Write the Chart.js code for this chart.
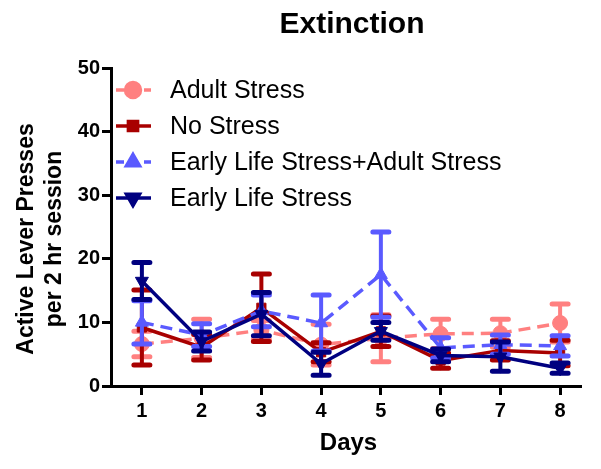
<!DOCTYPE html>
<html>
<head>
<meta charset="utf-8">
<script src="https://cdn.jsdelivr.net/npm/chart.js@4/dist/chart.umd.min.js"></script>
<style>
  html, body { margin: 0; padding: 0; background: #fff; }
  #wrap { width: 601px; height: 469px; }
</style>
</head>
<body>
<div id="wrap"><canvas id="chart" width="601" height="469"></canvas></div>
<script>
//Days on the x axis
const days = [1, 2, 3, 4, 5, 6, 7, 8];
//Group means and error (SEM)
const adultStress = [6.6, 7.5, 8.8, 6.5, 7.5, 8.2, 8.3, 9.9];
const adultStressErr = [2.0, 3.0, 1.5, 3.2, 3.7, 2.3, 2.2, 3.0];
const noStress = [9.2, 6.1, 12.3, 5.3, 8.6, 4.0, 5.6, 5.2];
const noStressErr = [5.9, 2.0, 5.3, 1.5, 2.4, 1.2, 1.5, 2.0];
const elsAdult = [10.0, 8.0, 11.8, 9.9, 17.5, 6.0, 6.5, 6.3];
const elsAdultErr = [3.4, 1.8, 2.5, 4.4, 6.7, 1.6, 1.5, 1.6];
const els = [16.5, 7.0, 11.3, 3.5, 8.6, 4.8, 4.6, 2.8];
const elsErr = [2.9, 1.5, 3.4, 1.8, 1.4, 1.0, 2.3, 0.8];
//Y axis ticks
const yTicks = [0, 10, 20, 30, 40, 50];

const FONT = "Arial, 'Liberation Sans', sans-serif";

//build one dataset
const makeSet = (label, values, errors, color, dashed, style, rot, order) => ({
  label: label,
  data: days.map((d, i) => ({ x: d, y: values[i] })),
  errors: errors,
  borderColor: color,
  backgroundColor: color,
  borderWidth: 3.5,
  borderDash: dashed ? [12, 7] : [],
  pointStyle: style,
  rotation: rot,
  pointRadius: style === "rect" ? 6.5 : 7.5,
  pointBorderWidth: 1,
  tension: 0,
  order: order,
});

const datasets = [
  makeSet("Adult Stress", adultStress, adultStressErr, "#FF8080", true, "circle", 0, 4),
  makeSet("No Stress", noStress, noStressErr, "#A80000", false, "rect", 0, 3),
  makeSet("Early Life Stress+Adult Stress", elsAdult, elsAdultErr, "#5A5AFF", true, "triangle", 0, 2),
  makeSet("Early Life Stress", els, elsErr, "#000080", false, "triangle", 180, 1),
];

//Error bars drawn under each dataset's line
const errorBars = {
  id: "errorBars",
  beforeDatasetDraw(chart, args) {
    const ds = chart.data.datasets[args.index];
    const meta = args.meta;
    const yScale = chart.scales.y;
    const ctx = chart.ctx;
    ctx.save();
    ctx.strokeStyle = ds.borderColor;
    ctx.lineCap = "round";
    meta.data.forEach((pt, i) => {
      const v = ds.data[i].y;
      const e = ds.errors[i];
      const top = yScale.getPixelForValue(v + e);
      const bot = yScale.getPixelForValue(v - e);
      ctx.lineWidth = 4;
      ctx.beginPath();
      ctx.moveTo(pt.x, top);
      ctx.lineTo(pt.x, bot);
      ctx.stroke();
      ctx.lineWidth = 5;
      ctx.beginPath();
      ctx.moveTo(pt.x - 8, top);
      ctx.lineTo(pt.x + 8, top);
      ctx.moveTo(pt.x - 8, bot);
      ctx.lineTo(pt.x + 8, bot);
      ctx.stroke();
    });
    ctx.restore();
  },
};

//Title, axis titles and legend inside the plot
const labelsPlugin = {
  id: "labels",
  afterDraw(chart) {
    const ctx = chart.ctx;
    const area = chart.chartArea;
    ctx.save();
    ctx.fillStyle = "#000";
    ctx.textAlign = "center";
    ctx.textBaseline = "alphabetic";
    ctx.font = "bold 30px " + FONT;
    ctx.fillText("Extinction", 352, 33);
    ctx.font = "bold 24px " + FONT;
    ctx.fillText("Days", (area.left + area.right) / 2 + 3, 450);
    //Y title, two lines
    ctx.translate(0, (area.top + area.bottom) / 2 + 12);
    ctx.rotate(-Math.PI / 2);
    ctx.font = "bold 23px " + FONT;
    ctx.fillText("Active Lever Presses", 0, 33);
    ctx.fillText("per 2 hr session", 0, 61);
    ctx.restore();

    //legend
    ctx.save();
    ctx.font = "25px " + FONT;
    ctx.textAlign = "left";
    ctx.textBaseline = "middle";
    chart.data.datasets.forEach((ds, i) => {
      const y = 90 + i * 36;
      ctx.strokeStyle = ds.borderColor;
      ctx.lineWidth = 3.5;
      ctx.setLineDash(ds.borderDash.length ? [8, 6] : []);
      ctx.beginPath();
      ctx.moveTo(116, y);
      ctx.lineTo(151, y);
      ctx.stroke();
      ctx.setLineDash([]);
      Chart.helpers.drawPoint(ctx, {
        pointStyle: ds.pointStyle,
        rotation: ds.rotation,
        radius: ds.pointRadius,
        borderWidth: 1,
      }, 133, y);
      ctx.fillStyle = ds.backgroundColor;
      ctx.fill();
      ctx.fillStyle = "#000";
      ctx.fillText(ds.label, 170, y + 1);
    });
    ctx.restore();
  },
};

new Chart(document.getElementById("chart"), {
  type: "line",
  data: { datasets: datasets },
  plugins: [errorBars, labelsPlugin],
  options: {
    responsive: false,
    animation: false,
    layout: { padding: { top: 68, right: 21, left: 0, bottom: 0 } },
    plugins: {
      legend: { display: false },
      tooltip: { enabled: false },
      title: { display: false },
    },
    scales: {
      x: {
        type: "linear",
        min: 0.483,
        max: 8.333,
        afterFit: (s) => { s.height = 83; },
        afterBuildTicks: (s) => { s.ticks = days.map((d) => ({ value: d })); },
        border: { display: true, color: "#000", width: 3 },
        grid: { drawOnChartArea: false, color: "#000", tickLength: 9, lineWidth: 3 },
        ticks: { color: "#000", font: { family: FONT, size: 20, weight: "bold" }, padding: 4 },
      },
      y: {
        min: 0,
        max: 50,
        afterFit: (s) => { s.width = 111; },
        afterBuildTicks: (s) => { s.ticks = yTicks.map((v) => ({ value: v })); },
        border: { display: true, color: "#000", width: 3 },
        grid: { drawOnChartArea: false, color: "#000", tickLength: 9, lineWidth: 3 },
        ticks: { color: "#000", font: { family: FONT, size: 20, weight: "bold" }, padding: 2 },
      },
    },
  },
});
</script>
</body>
</html>
